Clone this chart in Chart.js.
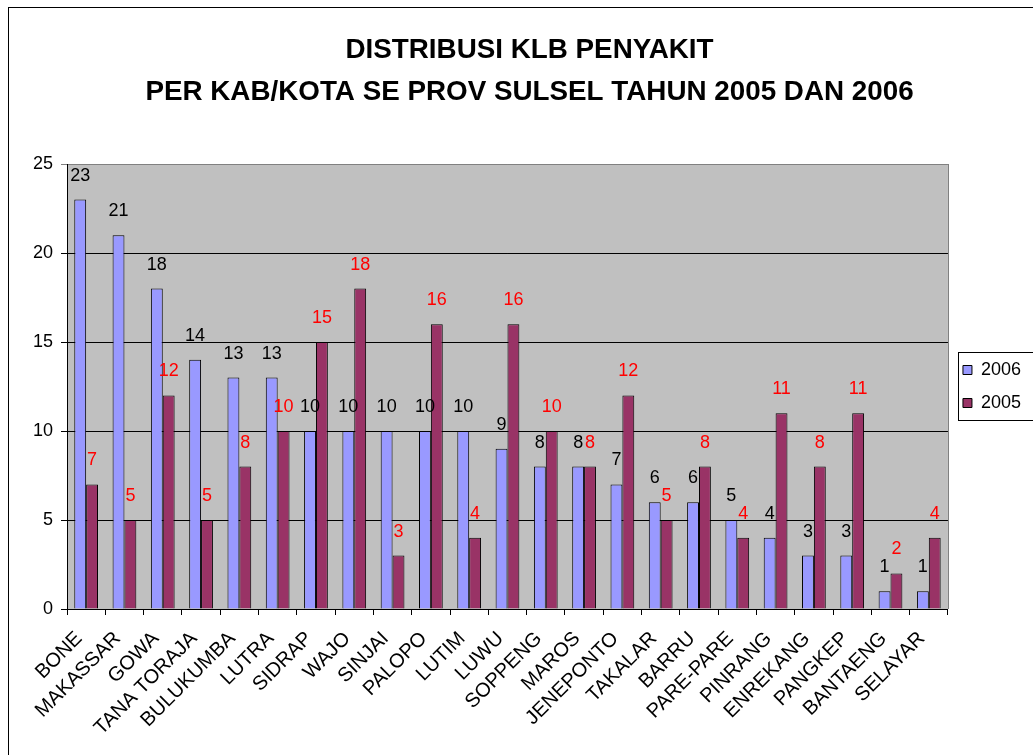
<!DOCTYPE html>
<html>
<head>
<meta charset="utf-8">
<script src="https://cdn.jsdelivr.net/npm/chart.js@4.4.1/dist/chart.umd.min.js"></script>
<style>
  html, body { margin: 0; padding: 0; background: #ffffff; overflow: hidden; width: 1033px; height: 755px; }
  #frame { position: absolute; left: 8px; top: 7px; width: 1200px; height: 900px; border: 1px solid #000; box-sizing: border-box; }
  #c { position: absolute; left: 0; top: 0; }
</style>
</head>
<body>
<div id="frame"></div>
<canvas id="c" width="1033" height="755"></canvas>
<script>
const titleLines = ["DISTRIBUSI KLB PENYAKIT", "PER KAB/KOTA SE PROV SULSEL TAHUN 2005 DAN 2006"];
const categories = ["BONE", "MAKASSAR", "GOWA", "TANA TORAJA", "BULUKUMBA", "LUTRA", "SIDRAP", "WAJO", "SINJAI", "PALOPO", "LUTIM", "LUWU", "SOPPENG", "MAROS", "JENEPONTO", "TAKALAR", "BARRU", "PARE-PARE", "PINRANG", "ENREKANG", "PANGKEP", "BANTAENG", "SELAYAR"];
const values2006 = [23, 21, 18, 14, 13, 13, 10, 10, 10, 10, 10, 9, 8, 8, 7, 6, 6, 5, 4, 3, 3, 1, 1];
const values2005 = [7, 5, 12, 5, 8, 10, 15, 18, 3, 16, 4, 16, 10, 8, 12, 5, 8, 4, 11, 8, 11, 2, 4];
const seriesNames = ["2006", "2005"];
const yTicks = [0, 5, 10, 15, 20, 25];

const FONT = "'Liberation Sans', Arial, sans-serif";

const plotBg = {
  id: 'plotBg',
  beforeDraw(chart) {
    const { ctx, chartArea: a } = chart;
    ctx.save();
    ctx.fillStyle = '#C0C0C0';
    ctx.fillRect(a.left, a.top, a.right - a.left, a.bottom - a.top);
    ctx.restore();
  },
  afterDraw(chart) {
    const { ctx, chartArea: a } = chart;
    ctx.save();
    ctx.strokeStyle = '#808080';
    ctx.lineWidth = 1;
    ctx.beginPath();
    ctx.moveTo(Math.round(a.right) + 0.5, a.top);
    ctx.lineTo(Math.round(a.right) + 0.5, a.bottom);
    ctx.stroke();
    // legend frame
    const lg = chart.legend;
    if (lg && lg.legendHitBoxes && lg.legendHitBoxes.length) {
      const hb = lg.legendHitBoxes;
      const top = hb[0].top - 9;
      const bottom = hb[hb.length - 1].top + hb[hb.length - 1].height + 8;
      ctx.strokeStyle = '#000';
      ctx.strokeRect(Math.round(lg.left + 10) + 0.5, Math.round(top) + 0.5, 200, Math.round(bottom - top));
    }
    ctx.restore();
  }
};

const valueLabels = {
  id: 'valueLabels',
  afterDatasetsDraw(chart) {
    const { ctx } = chart;
    ctx.save();
    ctx.font = "18px " + FONT;
    ctx.textAlign = 'center';
    ctx.textBaseline = 'middle';
    chart.data.datasets.forEach((ds, di) => {
      const meta = chart.getDatasetMeta(di);
      ctx.fillStyle = di === 0 ? '#000000' : '#FF0000';
      meta.data.forEach((el, i) => {
        ctx.fillText(String(ds.data[i]), el.x, el.y - 24);
      });
    });
    ctx.restore();
  }
};

new Chart(document.getElementById('c'), {
  type: 'bar',
  data: {
    labels: categories,
    datasets: [
      { label: seriesNames[0], data: values2006, backgroundColor: '#9999FF', borderColor: '#000000', borderWidth: 1, borderSkipped: 'bottom' },
      { label: seriesNames[1], data: values2005, backgroundColor: '#993366', borderColor: '#000000', borderWidth: 1, borderSkipped: 'bottom' }
    ]
  },
  options: {
    responsive: false,
    animation: false,
    devicePixelRatio: 1,
    datasets: { bar: { categoryPercentage: 0.62, barPercentage: 1.0 } },
    layout: { padding: { top: 20, left: 28, right: 2, bottom: 0 } },
    plugins: {
      title: {
        display: true,
        text: titleLines,
        color: '#000',
        font: { family: FONT, size: 27.8, weight: 'bold', lineHeight: 1.511 },
        padding: { top: 9, bottom: 51 }
      },
      legend: {
        display: true,
        position: 'right',
        fullSize: false,
        labels: {
          boxWidth: 9,
          boxHeight: 9,
          padding: 15,
          color: '#000',
          font: { family: FONT, size: 18 }
        }
      },
      tooltip: { enabled: false }
    },
    scales: {
      x: {
        afterFit(scale) { scale.height = 146; },
        grid: { display: true, drawOnChartArea: false, drawTicks: true, tickLength: 6, color: '#000', offset: true },
        border: { display: true, color: '#000', width: 1 },
        ticks: { color: '#000', font: { family: FONT, size: 20 }, minRotation: 45, maxRotation: 45, padding: 12, labelOffset: -7, autoSkip: false }
      },
      y: {
        min: 0,
        max: 25,
        afterFit(scale) { scale.width = 39; },
        afterBuildTicks(scale) { scale.ticks = yTicks.map(v => ({ value: v })); },
        grid: {
          drawTicks: true,
          tickLength: 6,
          color: (ctx) => (ctx.tick && ctx.tick.value === 25 ? '#808080' : '#000000'),
          lineWidth: 1
        },
        border: { display: true, color: '#000', width: 1 },
        ticks: { color: '#000', font: { family: FONT, size: 18 }, padding: 8 }
      }
    }
  },
  plugins: [plotBg, valueLabels]
});
</script>
</body>
</html>
